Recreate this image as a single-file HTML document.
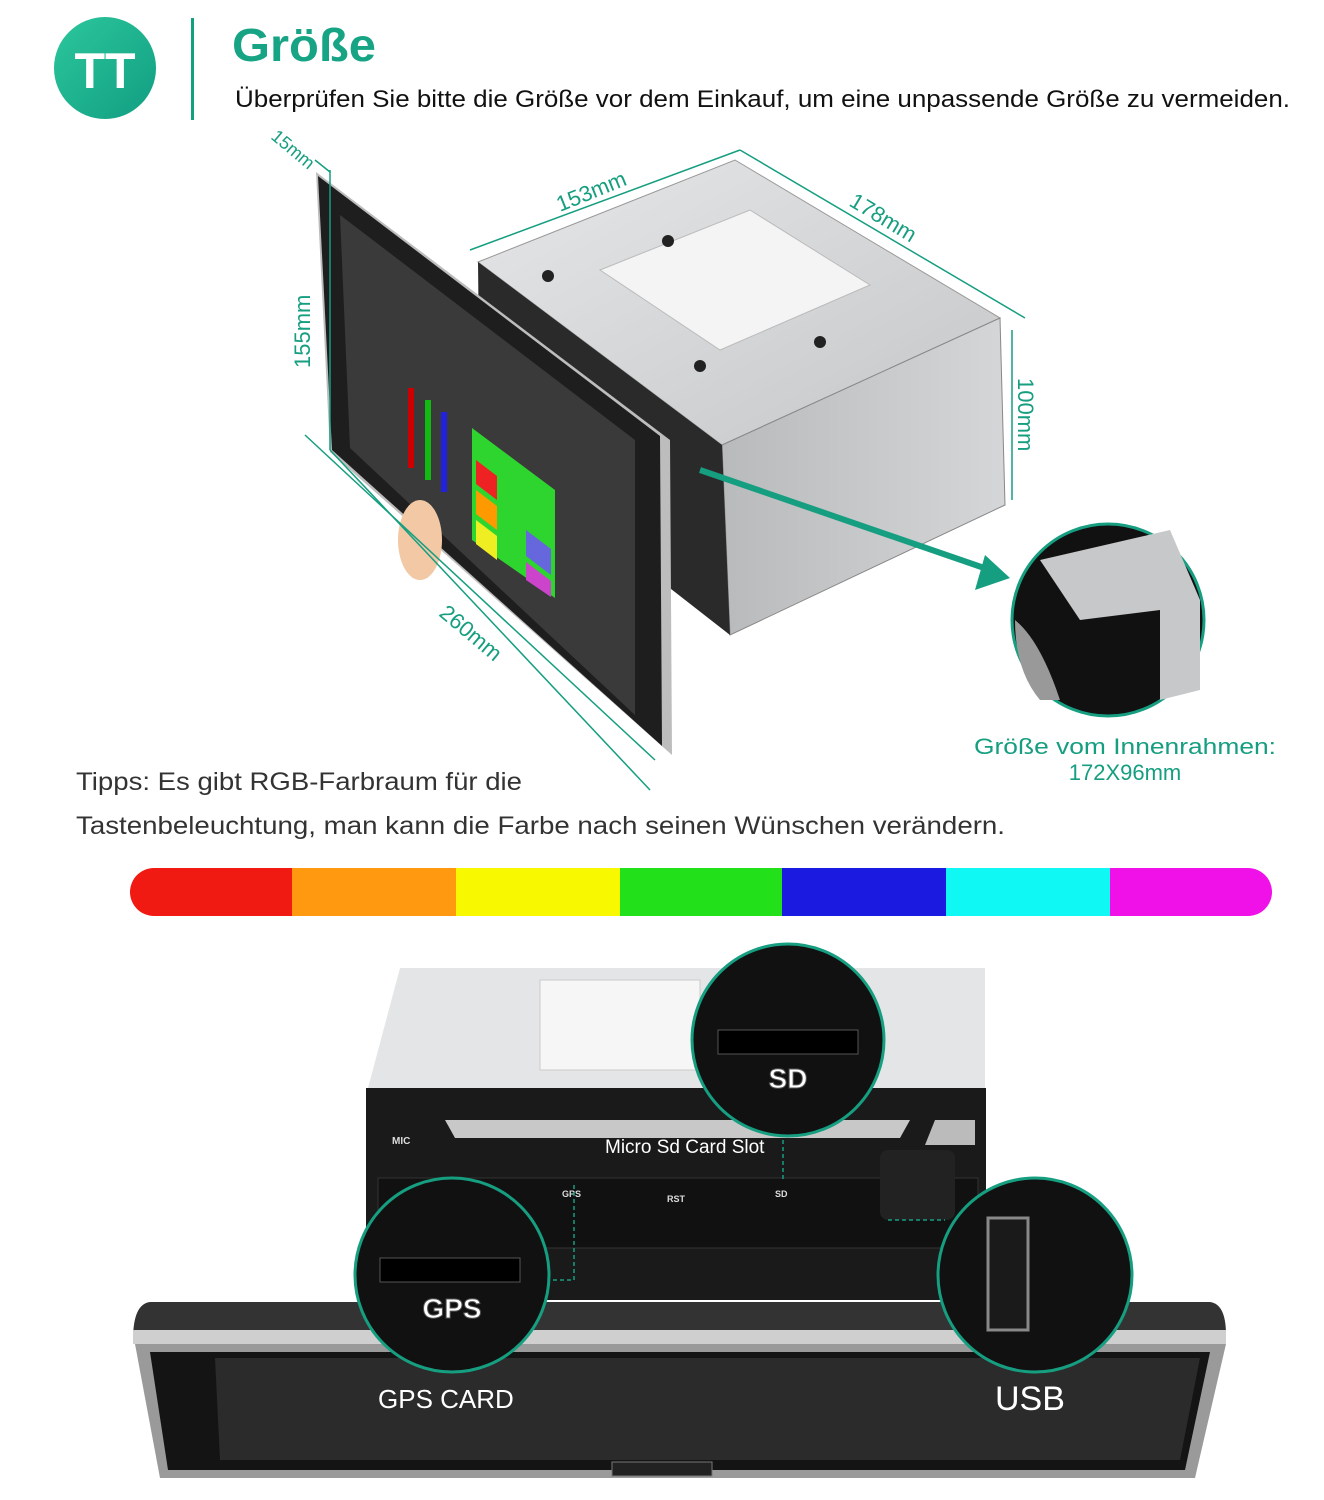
<!DOCTYPE html>
<html><head><meta charset="utf-8"><style>
html,body{margin:0;padding:0;background:#fff;}
svg{display:block;font-family:"Liberation Sans",sans-serif;}
</style></head><body>
<svg width="1324" height="1500" viewBox="0 0 1324 1500" xmlns="http://www.w3.org/2000/svg">
<defs>
<linearGradient id="ic" x1="0" y1="0" x2="1" y2="1"><stop offset="0" stop-color="#2cc79c"/><stop offset="1" stop-color="#119e82"/></linearGradient>
<linearGradient id="metal" x1="0" y1="0" x2="1" y2="1"><stop offset="0" stop-color="#e6e7e8"/><stop offset="1" stop-color="#c4c6c8"/></linearGradient>
<linearGradient id="side" x1="0" y1="0" x2="1" y2="0"><stop offset="0" stop-color="#b8babc"/><stop offset="1" stop-color="#d4d6d8"/></linearGradient>
</defs>

<!-- header -->
<circle cx="105" cy="68" r="51" fill="url(#ic)"/>
<text x="105" y="88" font-size="50" font-weight="bold" fill="#fff" text-anchor="middle">TT</text>
<rect x="191" y="18" width="3" height="102" fill="#12a07f"/>
<text x="232" y="61" font-size="46" font-weight="bold" fill="#16a484" textLength="144" lengthAdjust="spacingAndGlyphs">Größe</text>
<text x="235" y="107" font-size="24" fill="#111" textLength="1055" lengthAdjust="spacingAndGlyphs">Überprüfen Sie bitte die Größe vor dem Einkauf, um eine unpassende Größe zu vermeiden.</text>

<!-- metal box -->
<polygon points="478,262 735,160 1000,318 722,445" fill="url(#metal)" stroke="#999"/>
<polygon points="600,270 750,210 870,285 720,350" fill="#f4f4f4" stroke="#bbb"/>
<polygon points="722,445 1000,318 1005,505 730,635" fill="url(#side)" stroke="#888"/>
<polygon points="478,262 722,445 730,635 480,440" fill="#2a2a2a"/>
<circle cx="548" cy="276" r="6" fill="#222"/><circle cx="668" cy="241" r="6" fill="#222"/>
<circle cx="700" cy="366" r="6" fill="#222"/><circle cx="820" cy="342" r="6" fill="#222"/>

<!-- screen -->
<polygon points="316,172 670,440 672,755 330,452" fill="#bdbdbd"/>
<polygon points="318,176 660,436 662,746 332,450" fill="#1e1e1e"/>
<polygon points="340,215 635,440 635,715 350,448" fill="#3a3a3a"/>
<polygon points="472,428 555,490 555,598 472,540" fill="#2fd52f"/>
<polygon points="476,460 497,476 497,500 476,484" fill="#e22"/>
<polygon points="476,490 497,506 497,530 476,514" fill="#f90"/>
<polygon points="476,520 497,536 497,560 476,544" fill="#ee2"/>
<polygon points="526,530 551,549 551,575 526,556" fill="#66d"/>
<polygon points="526,562 551,581 551,597 526,580" fill="#c4c"/>
<rect x="408" y="388" width="6" height="80" fill="#c00"/><rect x="425" y="400" width="6" height="80" fill="#1b1"/><rect x="441" y="412" width="6" height="80" fill="#22d"/>
<ellipse cx="420" cy="540" rx="22" ry="40" fill="#f2c9a4"/>

<!-- dimension lines -->
<g stroke="#169e80" stroke-width="1.5" fill="none">
<line x1="330" y1="170" x2="330" y2="450"/><line x1="305" y1="435" x2="655" y2="760"/>
<line x1="330" y1="450" x2="650" y2="790"/>
<line x1="470" y1="250" x2="740" y2="150"/><line x1="740" y1="150" x2="1025" y2="318"/>
<line x1="1012" y1="330" x2="1012" y2="500"/><line x1="315" y1="160" x2="330" y2="172"/>
</g>
<g fill="#169e80" font-size="22">
<text x="0" y="0" transform="translate(560,212) rotate(-22)">153mm</text>
<text x="0" y="0" transform="translate(848,205) rotate(31)">178mm</text>
<text x="0" y="0" transform="translate(1018,378) rotate(90)">100mm</text>
<text x="0" y="0" transform="translate(310,368) rotate(-90)">155mm</text>
<text x="0" y="0" transform="translate(438,615) rotate(40)">260mm</text>
<text x="0" y="0" font-size="18" transform="translate(270,138) rotate(40)">15mm</text>
</g>

<!-- arrow + zoom -->
<line x1="700" y1="470" x2="990" y2="570" stroke="#169e80" stroke-width="6"/>
<polygon points="1010,578 975,590 985,555" fill="#169e80"/>
<circle cx="1108" cy="620" r="96" fill="#111" stroke="#169e80" stroke-width="3"/>
<path d="M1040,560 L1170,530 L1200,600 L1200,690 L1160,700 L1160,610 L1080,620 Z" fill="#c6c8ca"/>
<path d="M1015,620 Q1040,640 1060,700 L1040,700 Q1015,670 1015,620Z" fill="#999"/>
<text x="1125" y="754" font-size="22" fill="#169e80" text-anchor="middle" textLength="302" lengthAdjust="spacingAndGlyphs">Größe vom Innenrahmen:</text>
<text x="1125" y="780" font-size="22" fill="#169e80" text-anchor="middle">172X96mm</text>

<text x="76" y="790" font-size="25" fill="#333" textLength="446" lengthAdjust="spacingAndGlyphs">Tipps: Es gibt RGB-Farbraum für die</text>
<text x="76" y="834" font-size="25" fill="#333" textLength="929" lengthAdjust="spacingAndGlyphs">Tastenbeleuchtung, man kann die Farbe nach seinen Wünschen verändern.</text>

<!-- color bar -->
<clipPath id="cb"><rect x="130" y="868" width="1142" height="48" rx="24"/></clipPath>
<g clip-path="url(#cb)">
<rect x="130" y="868" width="162" height="48" fill="#f01a12"/>
<rect x="292" y="868" width="164" height="48" fill="#ff9a10"/>
<rect x="456" y="868" width="164" height="48" fill="#f8f800"/>
<rect x="620" y="868" width="162" height="48" fill="#22e01a"/>
<rect x="782" y="868" width="164" height="48" fill="#1a1ae0"/>
<rect x="946" y="868" width="164" height="48" fill="#10f8f4"/>
<rect x="1110" y="868" width="162" height="48" fill="#f010e8"/>
</g>

<!-- bottom unit -->
<polygon points="400,968 985,968 985,1088 368,1088" fill="#e4e5e6"/>
<rect x="540" y="980" width="160" height="90" fill="#f6f6f6" stroke="#ccc"/>
<rect x="366" y="1088" width="620" height="212" fill="#1a1a1a"/>
<polygon points="445,1120 910,1120 900,1138 455,1138" fill="#c8c8c8"/>
<polygon points="935,1120 975,1120 975,1145 925,1145" fill="#bbb"/>
<rect x="378" y="1178" width="600" height="70" fill="#111" stroke="#333"/>
<rect x="880" y="1150" width="75" height="70" rx="8" fill="#222"/>
<text x="392" y="1144" font-size="10" font-weight="bold" fill="#ddd">MIC</text>
<text x="605" y="1153" font-size="19" fill="#fff">Micro Sd Card Slot</text>
<text x="562" y="1197" font-size="9" font-weight="bold" fill="#ddd">GPS</text>
<text x="667" y="1202" font-size="9" font-weight="bold" fill="#ddd">RST</text>
<text x="775" y="1197" font-size="9" font-weight="bold" fill="#ddd">SD</text>
<g stroke="#169e80" stroke-width="1.5" stroke-dasharray="4,3" fill="none">
<path d="M783,1140 V1180"/><path d="M574,1185 V1280 H548"/><path d="M888,1220 H945"/>
</g>

<!-- bottom screen -->
<path d="M150,1302 L1210,1302 Q1226,1304 1226,1335 L1226,1340 L133,1340 Q133,1304 150,1302Z" fill="#333"/>
<rect x="133" y="1330" width="1093" height="14" fill="#cfcfcf"/>
<polygon points="135,1344 1226,1344 1195,1478 160,1478" fill="#9a9a9a"/>
<polygon points="150,1352 1210,1352 1185,1470 168,1470" fill="#141414"/>
<polygon points="215,1358 1200,1358 1180,1460 220,1460" fill="#2b2b2b"/>
<rect x="612" y="1462" width="100" height="14" fill="#222" stroke="#777"/>
<text x="378" y="1408" font-size="26" fill="#fff">GPS CARD</text>
<text x="995" y="1410" font-size="34" fill="#fff">USB</text>

<!-- zoom circles -->
<circle cx="788" cy="1040" r="96" fill="#111" stroke="#169e80" stroke-width="3"/>
<rect x="718" y="1030" width="140" height="24" fill="#000" stroke="#555"/>
<text x="788" y="1088" font-size="28" font-weight="bold" fill="#fff" stroke="#555" stroke-width="1" text-anchor="middle">SD</text>
<circle cx="452" cy="1275" r="97" fill="#111" stroke="#169e80" stroke-width="3"/>
<rect x="380" y="1258" width="140" height="24" fill="#000" stroke="#555"/>
<text x="452" y="1318" font-size="28" font-weight="bold" fill="#fff" stroke="#555" stroke-width="1" text-anchor="middle">GPS</text>
<circle cx="1035" cy="1275" r="97" fill="#111" stroke="#169e80" stroke-width="3"/>
<rect x="988" y="1218" width="40" height="112" fill="#1a1a1a" stroke="#888" stroke-width="3"/>
</svg>
</body></html>
